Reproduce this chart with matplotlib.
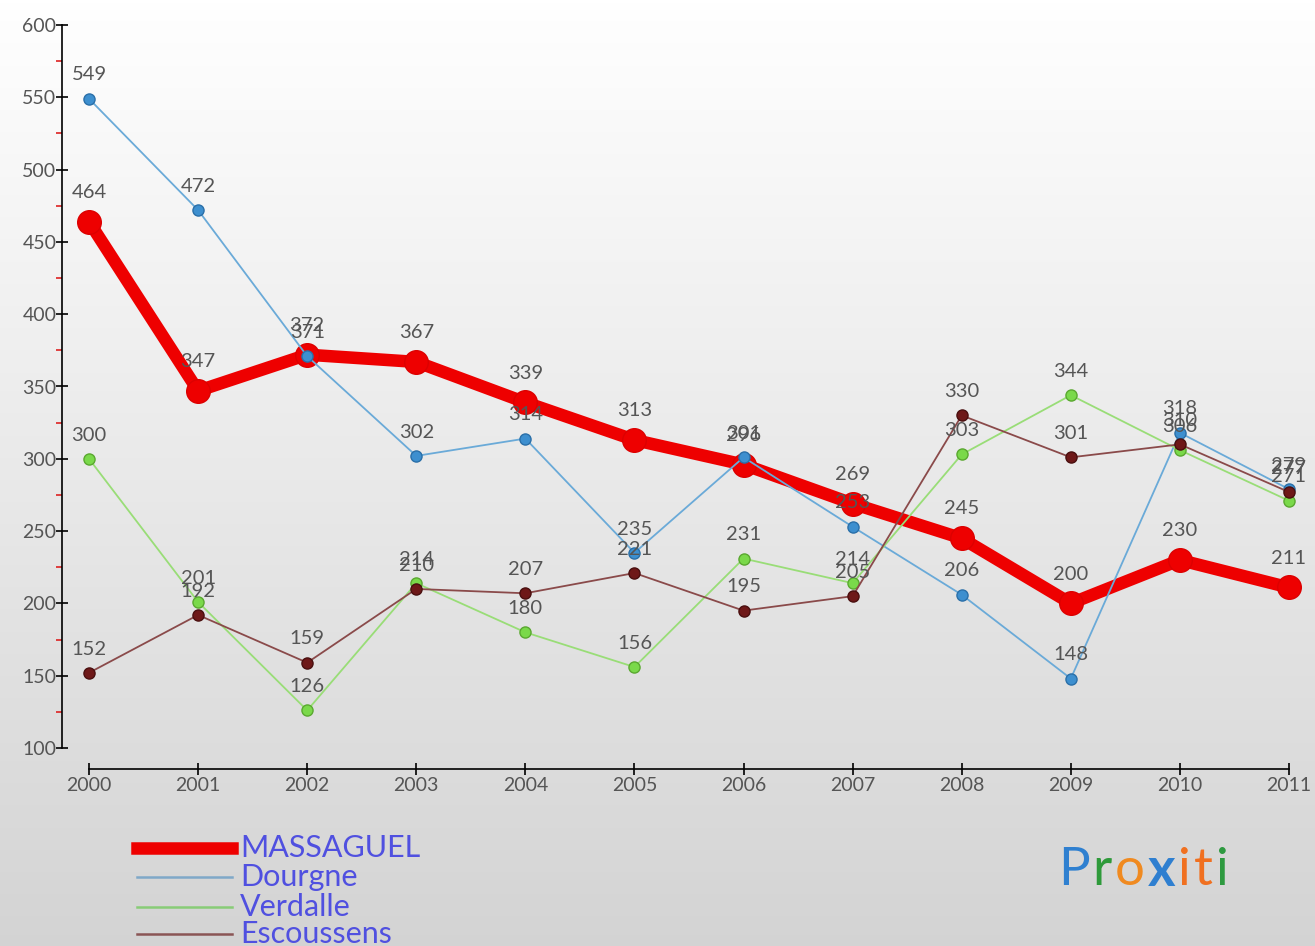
import matplotlib
matplotlib.use("Agg")
import matplotlib.pyplot as plt
from matplotlib.lines import Line2D
import numpy as np

# données
annees = [2000, 2001, 2002, 2003, 2004, 2005, 2006, 2007, 2008, 2009, 2010, 2011]
massaguel = [464, 347, 372, 367, 339, 313, 296, 269, 245, 200, 230, 211]
dourgne = [549, 472, 371, 302, 314, 235, 301, 253, 206, 148, 318, 279]
verdalle = [300, 201, 126, 214, 180, 156, 231, 214, 303, 344, 306, 271]
escoussens = [152, 192, 159, 210, 207, 221, 195, 205, 330, 301, 310, 277]
noms = ["MASSAGUEL", "Dourgne", "Verdalle", "Escoussens"]
yticks = [100, 150, 200, 250, 300, 350, 400, 450, 500, 550, 600]

plt.rcParams['font.family'] = ['Lato', 'DejaVu Sans']

W, H = 1315, 946
fig = plt.figure(figsize=(W / 100, H / 100), dpi=100)

# fond dégradé
bg = fig.add_axes([0, 0, 1, 1], zorder=-10)
grad = np.linspace(1.0, 0.83, 256).reshape(-1, 1)
bg.imshow(np.dstack([grad, grad, grad]), aspect='auto', extent=[0, 1, 0, 1])
bg.set_axis_off()

# axes en pixels
x0, x1 = 62, 1315
y_top, y_bot = 25, 748
ax = fig.add_axes([x0 / W, 1 - y_bot / H, (x1 - x0) / W, (y_bot - y_top) / H])
ax.patch.set_alpha(0)
px_an = (1289 - 89) / 11
ax.set_xlim(2000 - 27 / px_an, 2011 + 26 / px_an)
ax.set_ylim(100, 600)

ax.spines['top'].set_visible(False)
ax.spines['right'].set_visible(False)
ax.spines['left'].set_color('black')
ax.spines['left'].set_linewidth(1.2)
ax.spines['bottom'].set_position(('outward', 15))
ax.spines['bottom'].set_bounds(2000, 2011)
ax.spines['bottom'].set_linewidth(1.2)

ax.set_yticks(yticks)
ax.set_yticks(np.arange(125, 600, 50), minor=True)
ax.tick_params(axis='y', which='major', direction='inout', length=8, width=1.2,
               labelsize=14, labelcolor='#555555', pad=0)
ax.tick_params(axis='y', which='minor', direction='out', length=4, width=1.2,
               color='#dd2222')
ax.set_xticks(annees)
ax.set_xticklabels([str(a) for a in annees])
ax.tick_params(axis='x', direction='inout', length=8, width=1.2,
               labelsize=14, labelcolor='#555555', pad=2)

# courbes
ax.plot(annees, massaguel, color='#ee0000', lw=9, marker='o', ms=17,
        mfc='#ee0000', mec='#dd0000', zorder=2, solid_capstyle='round')
ax.plot(annees, dourgne, color='#6aaad8', lw=1.3, marker='o', ms=8,
        mfc='#3d8fcf', mec='#2a6fa8', mew=1, zorder=3)
ax.plot(annees, verdalle, color='#99dd77', lw=1.3, marker='o', ms=8,
        mfc='#7ad94a', mec='#5aa830', mew=1, zorder=4)
ax.plot(annees, escoussens, color='#8a4a4a', lw=1.3, marker='o', ms=8,
        mfc='#6e1818', mec='#4a0f0f', mew=1, zorder=5)

# étiquettes des valeurs
for serie, dy in [(massaguel, 15), (dourgne, 11), (verdalle, 11), (escoussens, 11)]:
    for a, v in zip(annees, serie):
        ax.annotate(str(v), (a, v), xytext=(0, dy), textcoords='offset points',
                    ha='center', va='bottom', fontsize=14.5, color='#555555',
                    zorder=10)

# légende
styles = [('#ee0000', 9), ('#7fa8c8', 1.8), ('#88cc77', 1.8), ('#8a5555', 1.8)]
leg_y = [848, 877, 907, 934]
for nom, (c, lw), yy in zip(noms, styles, leg_y):
    fig.add_artist(Line2D([137 / W, 232 / W], [1 - yy / H, 1 - yy / H],
                          color=c, lw=lw, transform=fig.transFigure))
    fig.text(240 / W, 1 - yy / H, nom, fontsize=22, color='#5050e0',
             ha='left', va='center')

# logo Proxiti
logo = [('P', '#2f80d0'), ('r', '#2e9a3a'), ('o', '#f08a20'), ('x', '#2f7fd0'),
        ('i', '#f07020'), ('t', '#f07020'), ('i', '#2e9a40')]
lx = 1058
for ch, c in logo:
    t = fig.text(lx / W, 1 - 870 / H, ch, fontsize=38, color=c,
                 ha='left', va='center', fontweight='bold' if ch == 'x' else 'normal')
    fig.canvas.draw()
    bb = t.get_window_extent()
    lx += bb.width + 3

fig.savefig('out.png', dpi=100)
